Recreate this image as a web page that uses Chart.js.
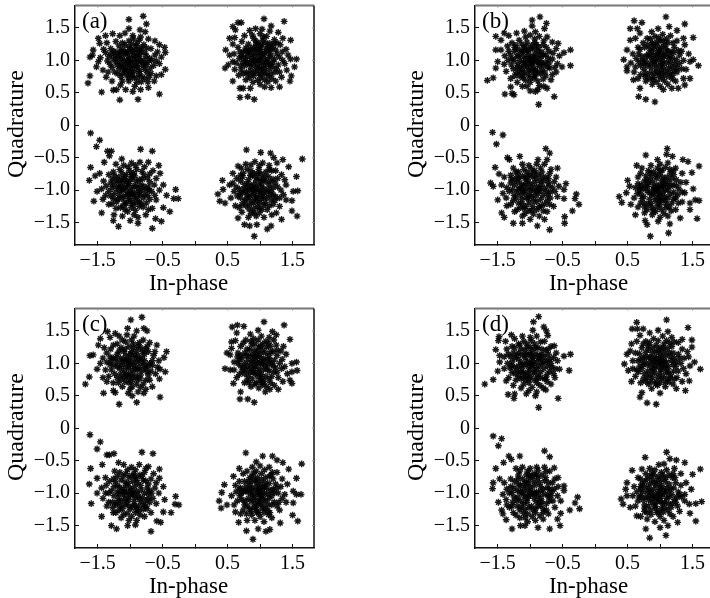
<!DOCTYPE html>
<html>
<head>
<meta charset="utf-8">
<style>
html, body { margin: 0; background: #fff; overflow: hidden; }
canvas { position: absolute; }
</style>
<script src="https://cdn.jsdelivr.net/npm/chart.js@4"></script>
</head>
<body>
<canvas id="a" style="left:0;top:0"></canvas>
<canvas id="b" style="left:400px;top:0"></canvas>
<canvas id="c" style="left:0;top:303px"></canvas>
<canvas id="d" style="left:400px;top:303px"></canvas>
<script>
const xTicks = [-1.5, -1, -0.5, 0, 0.5, 1, 1.5];
const yTicks = [-1.5, -1, -0.5, 0, 0.5, 1, 1.5];
const xLabelled = [-1.5, -0.5, 0.5, 1.5];

// The edges of each cloud are individual marks, the black middles are estimates
const pointsA = [
[-.8,1.68],[-1.02,1.63],[-.75,1.56],[-1.02,1.49],[-.85,1.47],[-.77,1.44],[-1.65,.65],[-1.62,.76],[-1.44,.51],[-1.16,.39],[-.88,.4],[-.55,.48],[-.46,.86],[-.46,1.12],[-.47,1.2],[-1.57,1.16],[-1.58,1.08],[-1.62,1.05],[-1.52,.9],[-1.49,.98],[-1.49,1.34],[-1.47,1.26],[-1.26,.54],[-1.21,.55],
[-1.38,1.38],[-1.27,1.41],[-1.16,1.38],[-1.08,1.42],[-.96,1.38],[-.84,1.36],[-.72,1.33],[-.62,1.3],[-.55,1.24],[-.52,1.05],[-.55,.95],[-.52,.78],[-.63,.68],[-.72,.58],[-.84,.55],[-.96,.52],[-1.07,.55],[-1.15,.62],[-1.28,.68],[-1.37,.74],[-1.42,.85],[-1.46,1.04],[-1.41,1.17],[-1.36,1.27],
[-1.3,1.18],[-1.22,1.29],[-1.12,1.27],[-1.02,1.3],[-.9,1.26],[-.79,1.24],[-.68,1.18],[-.62,1.08],[-.64,.92],[-.68,.8],[-.78,.72],[-.9,.66],[-1.02,.68],[-1.14,.74],[-1.24,.82],[-1.31,.94],[-1.33,1.06],
[-1.2,1.12],[-1.12,1.17],[-1.02,1.2],[-.93,1.16],[-.83,1.15],[-.75,1.06],[-.73,.97],[-.77,.86],[-.86,.79],[-.97,.77],[-1.07,.83],[-1.17,.87],[-1.22,.98],[-1.13,1.03],[-1.05,1.09],[-.96,1.08],[-.87,1.05],[-.82,.96],[-.88,.88],[-.98,.86],[-1.07,.93],[-1.0,.99],[-.92,.96],
[-1.04,1.13],[-.91,1.22],[-.84,1.0],[-1.16,1.08],[-.94,.91],[-1.11,.89],[-.8,.91],[-.93,.83],[-1.03,.73],[-1.26,1.02],[-1.15,.96],[-.7,1.03],[-.98,1.25],[-1.08,1.24],[-.86,1.31],[-.77,1.11],[-.69,.88],[-.83,.67],[-1.19,.79],[-1.28,.89],[-1.35,.99],[-1.25,1.14],[-1.17,1.22],[-.95,1.33],[-.75,1.19],[-.58,1.13],[-.6,.99],[-.6,.76],[-.73,.67],[-.93,.6],[-1.12,.68],[-1.34,.82],[-1.38,1.12],[-1.01,1.04],[-.89,1.11],[-.94,1.01],[-1.09,1.0],[-1.02,.89],[-.85,.83],[-1.0,.81],[-1.14,.92],[-.79,1.0],[-1.08,1.13],[-.97,1.14],[-.9,.73],[-1.19,1.03],[-.83,1.2],[-.71,.74],[-.88,.99],[-1.05,.78],
[-1.1,1.1],[-.99,1.17],[-.85,1.09],[-.9,.92],[-1.04,.97],[-1.2,.93],[-.76,.93],[-.96,.73],[-1.12,.8],[-1.23,1.07],[-.99,.94],[-.92,1.06],[-1.03,1.01],[-.86,1.16],[-1.08,.85],[-.83,.75],[-.74,.81],[-1.15,1.13],[-.67,1.0],[-1.29,1.1],
[.76,1.38],[.88,1.39],[1.0,1.41],[1.1,1.37],[1.22,1.32],[1.31,1.24],[1.4,1.17],[1.43,1.08],[1.38,.95],[1.41,.85],[1.33,.74],[1.24,.68],[1.12,.67],[1.0,.63],[.89,.66],[.78,.7],[.67,.77],[.61,.86],[.58,.98],[.6,1.1],[.66,1.2],[.72,1.29],
[.74,1.13],[.82,1.25],[.93,1.3],[1.04,1.31],[1.15,1.26],[1.24,1.16],[1.3,1.05],[1.28,.93],[1.23,.82],[1.12,.76],[1.01,.73],[.9,.76],[.79,.82],[.7,.92],[.68,1.03],
[.82,1.12],[.9,1.2],[1.0,1.22],[1.09,1.17],[1.17,1.08],[1.2,.98],[1.15,.87],[1.05,.83],[.95,.84],[.85,.9],[.78,1.0],[.87,1.03],[.95,1.11],[1.04,1.09],[1.11,1.0],[1.06,.93],[.96,.94],[.9,.99],[1.0,1.02],[1.02,.97],
[.66,1.58],[.71,1.58],[1.06,1.64],[1.37,1.6],[.58,1.52],[.62,1.47],[.84,1.46],[.93,1.49],[1.03,1.48],[1.17,1.53],[1.15,1.45],[1.28,1.43],[.53,1.34],[.61,1.35],[1.47,1.31],[1.35,1.34],[.58,1.25],[.47,1.16],[.53,1.08],[1.56,1.02],[1.47,1.02],[1.53,.9],[.46,.88],[.51,.93],[1.48,.76],[1.46,.68],[.58,.68],[.69,.57],[.74,.57],[.85,.57],[.69,.43],[.81,.44],[.91,.4],[1.3,.59],[1.17,.58],[1.07,.59],
[.92,1.06],[1.13,1.13],[.99,1.14],[.85,1.18],[1.22,1.02],[1.08,.88],[.98,.79],[.86,.83],[.74,.98],[.81,1.06],[1.19,.91],[1.13,.95],[.94,1.25],[1.09,1.27],[1.19,1.2],[.78,1.19],[.69,1.13],[.63,.96],[.74,.79],[.84,.73],[.96,.69],[1.07,.7],[1.18,.72],[1.3,.82],[1.35,1.0],[1.34,1.13],[1.26,1.27],[1.05,1.36],[.9,1.34],[.98,1.0],[1.06,1.04],[.88,.95],[.93,.89],[1.02,.87],[1.14,1.05],[1.0,1.17],[.88,1.1],[.76,.92],[.8,.95],[1.1,.8],[.91,1.16],[1.25,.87],[1.16,1.16],[.71,1.07],[1.03,1.24],
[.97,1.27],[1.07,1.12],[.84,1.14],[1.16,.94],[.9,.8],[1.03,.78],[.79,1.15],[.93,1.0],[1.09,.97],[.99,.89],[.84,.97],[1.12,1.21],[.75,1.05],[.71,.85],[1.26,1.1],[1.0,1.07],[.95,1.18],[1.17,.79],[.82,.78],[1.21,1.25],
[-1.61,-.12],[-1.47,-.23],[-1.52,-.33],[-1.35,-.4],[-1.29,-.4],[-1.32,-.47],[-.84,-.37],[-.66,-.4],[-1.4,-.57],[-1.61,-.65],[-1.63,-.85],[-1.54,-.78],[-1.47,-.74],[-1.51,-1.02],[-1.56,-1.17],[-1.44,-1.35],[-1.25,-1.38],[-1.26,-1.47],[-1.18,-1.56],[-.66,-1.59],[-.88,-1.51],[-.61,-1.44],[-.52,-1.48],[-.39,-1.33],[-.49,-1.27],[-.44,-1.08],[-.3,-.99],[-.33,-1.13],[-.26,-1.13],[-.49,-.92],[-.54,-.74],[-.56,-.62],[-.72,-.57],[-1.13,-.52],
[-1.22,-.6],[-1.1,-.62],[-.98,-.58],[-.85,-.57],[-.78,-.64],[-.65,-.7],[-.6,-.82],[-.55,-1.0],[-.6,-1.15],[-.66,-1.28],[-.76,-1.38],[-.88,-1.42],[-1.0,-1.47],[-1.12,-1.4],[-1.22,-1.28],[-1.33,-1.22],[-1.42,-1.14],[-1.44,-.98],[-1.41,-.86],[-1.33,-.76],
[-1.24,-.78],[-1.13,-.73],[-1.01,-.7],[-.9,-.68],[-.79,-.76],[-.7,-.87],[-.67,-1.02],[-.7,-1.14],[-.8,-1.26],[-.92,-1.31],[-1.04,-1.33],[-1.15,-1.27],[-1.26,-1.13],[-1.33,-1.02],[-1.3,-.89],
[-1.18,-.88],[-1.08,-.82],[-.97,-.8],[-.86,-.84],[-.79,-.94],[-.78,-1.07],[-.86,-1.18],[-.97,-1.21],[-1.08,-1.18],[-1.17,-1.08],[-1.2,-.98],[-1.09,-.95],[-1.02,-.9],[-.92,-.93],[-.87,-1.03],[-.95,-1.1],[-1.05,-1.07],[-1.12,-1.0],[-.99,-1.0],[-1.0,-1.04],
[-1.14,-.94],[-1.05,-.86],[-.91,-.86],[-.83,-1.0],[-.89,-1.11],[-1.02,-1.13],[-1.13,-1.13],[-1.24,-1.05],[-1.25,-.92],[-1.18,-.8],[-1.06,-.76],[-.95,-.74],[-.82,-.71],[-.74,-.81],[-.72,-.95],[-.73,-1.08],[-.75,-1.2],[-.86,-1.25],[-.98,-1.27],[-1.11,-1.24],[-1.21,-1.18],[-1.3,-1.09],[-1.37,-.94],[-1.28,-.83],[-1.16,-.68],[-1.03,-.64],[-.92,-.62],[-.7,-.75],[-.63,-.92],[-.62,-1.08],[-.72,-1.3],[-.94,-1.38],[-1.08,-1.3],[-1.28,-1.21],[-1.38,-1.08],[-1.07,-.99],[-.96,-.95],[-1.02,-1.06],[-.93,-1.04],[-1.16,-1.01],[-.99,-.84],[-.84,-.92],[-1.11,-.87],[-.91,-1.16],[-1.06,-1.21],[-.8,-1.12],
[-1.1,-1.09],[-.98,-.76],[-1.22,-.85],[-.88,-.97],[-1.04,-.93],[-1.19,-1.14],[-.93,-.78],[-.81,-.83],[-1.14,-.84],[-.76,-.99],[-1.28,-.97],[-1.0,-1.16],[-.83,-1.21],[-1.09,-.79],[-.94,-1.22],[-1.18,-.95],[-.71,-1.0],[-.85,-1.07],[-.97,-1.06],[-1.26,-.72],
[.79,-.38],[1.01,-.42],[1.16,-.43],[1.21,-.5],[1.35,-.53],[1.65,-.52],[1.44,-.64],[1.26,-.58],[1.56,-.79],[.42,-.85],[.35,-1.06],[.43,-.99],[.38,-1.17],[.46,-1.2],[1.58,-1.01],[1.51,-1.02],[1.49,-1.16],[1.49,-1.32],[1.57,-1.4],[1.11,-1.6],[1.17,-1.55],[.91,-1.71],[.84,-1.55],[.95,-1.53],[.76,-1.53],[.66,-1.43],[.66,-.63],[.71,-.66],[.58,-.74],[.53,-.92],[.58,-.89],[1.33,-1.45],[1.25,-1.35],[1.38,-.84],
[.78,-.6],[.92,-.56],[1.04,-.58],[1.14,-.62],[1.24,-.7],[1.33,-.76],[1.4,-.92],[1.36,-1.07],[1.4,-1.15],[1.3,-1.25],[1.18,-1.38],[1.06,-1.42],[.94,-1.4],[.82,-1.42],[.72,-1.34],[.62,-1.24],[.55,-1.12],[.6,-1.02],[.64,-.82],
[.74,-.74],[.86,-.7],[.98,-.68],[1.09,-.72],[1.2,-.83],[1.27,-.95],[1.24,-1.1],[1.14,-1.24],[1.03,-1.3],[.9,-1.29],[.78,-1.24],[.7,-1.12],[.68,-.98],[.7,-.86],
[.82,-.84],[.94,-.8],[1.05,-.84],[1.14,-.92],[1.17,-1.02],[1.1,-1.12],[1.0,-1.19],[.88,-1.16],[.8,-1.07],[.8,-.96],[.9,-.91],[.98,-.92],[1.06,-.98],[1.0,-1.08],[.91,-1.05],[.97,-1.0],[.88,-.99],[1.04,-1.04],[.95,-1.1],[1.02,-.88],
[.85,-.77],[.76,-.91],[.73,-1.04],[.76,-1.17],[.84,-1.22],[.96,-1.25],[1.08,-1.19],[1.17,-1.15],[1.2,-.96],[1.13,-.79],[1.02,-.75],[.91,-.74],[.8,-.68],[.7,-.77],[.63,-.95],[.65,-1.09],[.68,-1.27],[.86,-1.36],[.99,-1.35],[1.11,-1.3],[1.2,-1.22],[1.3,-1.12],[1.32,-1.0],[1.27,-.82],[1.18,-.7],[.99,-.62],[.86,-.61],[.93,-.96],[1.02,-1.13],[.84,-1.0],[1.1,-1.03],[.94,-.85],[.83,-1.11],[1.09,-.87],[1.15,-1.08],[.9,-1.2],[.78,-1.02],[1.0,-1.02],[.93,-1.12],[1.06,-1.23],[.81,-.9],[.97,-.74],[1.23,-.89],[.73,-.8],[.87,-1.07],
[1.03,-.95],[.88,-.78],[1.13,-.99],[.95,-1.16],[1.07,-.79],[.79,-1.14],[.86,-.94],[1.0,-.83],[1.2,-1.07],[.99,-1.28],[.91,-1.35],[1.14,-.68],[.75,-.98],[1.23,-1.16],[.83,-1.29],[1.05,-1.1],[.69,-1.05],[.92,-1.0],[1.16,-.86],[.72,-1.22]
];
const pointsB = [
[-.85,1.67],[-.97,1.62],[-.75,1.57],[-.97,1.53],[-.78,1.49],[-.92,1.44],[-1.53,1.37],[-1.4,1.42],[-1.45,1.31],[-.38,1.16],[-.48,1.12],[-.38,.92],[-.51,.9],[-.57,1.26],[-1.53,1.16],[-1.45,1.16],[-1.5,.98],[-1.53,.88],[-1.57,.73],[-1.66,.69],[-1.39,.48],[-1.28,.49],[-1.25,.47],[-.87,.32],[-.63,.44],[-.92,.52],[-1.3,.59],[-.74,.57],
[-1.33,1.38],[-1.21,1.42],[-1.09,1.45],[-1.0,1.39],[-.86,1.37],[-.74,1.36],[-.66,1.28],[-.6,1.18],[-.55,1.07],[-.58,.95],[-.6,.82],[-.68,.7],[-.79,.6],[-.88,.55],[-1.0,.53],[-1.12,.6],[-1.2,.66],[-1.3,.72],[-1.37,.83],[-1.4,.94],[-1.39,1.07],[-1.35,1.22],
[-1.28,1.27],[-1.17,1.31],[-1.05,1.28],[-.93,1.27],[-.8,1.24],[-.71,1.14],[-.66,1.02],[-.7,.88],[-.76,.76],[-.88,.68],[-1.0,.66],[-1.12,.73],[-1.21,.81],[-1.29,.93],[-1.3,1.08],
[-1.19,1.17],[-1.1,1.19],[-.99,1.18],[-.88,1.14],[-.8,1.08],[-.77,.97],[-.82,.85],[-.92,.79],[-1.03,.78],[-1.13,.85],[-1.19,.95],[-1.2,1.06],[-1.1,1.06],[-1.02,1.09],[-.92,1.04],[-.88,.96],[-.95,.88],[-1.05,.9],[-1.1,.97],[-1.0,1.0],[-.96,.96],[-1.03,.95],[-.93,1.1],
[-1.14,1.12],[-1.06,1.14],[-.84,1.03],[-.86,.91],[-.98,.83],[-1.09,.82],[-1.16,.9],[-1.25,1.0],[-1.24,1.14],[-1.13,1.25],[-.98,1.23],[-.87,1.2],[-.75,1.2],[-.72,1.03],[-.73,.9],[-.8,.71],[-.94,.72],[-1.07,.69],[-1.17,.76],[-1.26,.87],[-1.34,1.0],[-1.33,1.14],[-1.22,1.23],[-1.07,1.36],[-.93,1.33],[-.79,1.3],[-.65,1.11],[-.62,.89],[-.66,.78],[-.86,.61],[-1.05,.6],[-1.24,.76],[-.98,.92],[-.9,.99],[-1.06,1.03],[-.96,1.05],[-1.15,1.0],[-.84,.79],[-1.0,.73],[-1.1,.91],[-.79,.92],[-1.03,1.16],[-.82,1.13],[-.92,.85],[-1.18,1.07],
[-1.12,1.14],[-.94,1.18],[-.86,1.08],[-.83,.96],[-1.02,.85],[-1.2,.89],[-1.07,1.22],[-.97,.99],[-.89,.82],[-1.15,.82],[-.76,1.08],[-1.28,1.02],[-.9,1.24],[-1.01,1.03],[-1.07,.97],[-.93,.76],[-.71,.96],[-1.24,1.2],[-.78,.82],[-1.11,.76],
[1.09,1.67],[1.38,1.56],[.6,1.61],[.72,1.58],[.54,1.49],[.65,1.49],[.69,1.42],[.54,1.31],[.62,1.34],[1.51,1.35],[.97,1.49],[1.14,1.52],[.87,1.44],[1.26,1.46],[1.36,1.34],[.44,1.01],[.49,.9],[.49,.84],[.59,.7],[1.59,.92],[1.51,1.01],[.49,1.16],[1.46,.72],[1.38,.62],[.67,.44],[.78,.4],[.92,.36],[.69,.57],[1.05,.55],[1.28,.57],[1.18,.57],
[.8,1.34],[.92,1.37],[1.04,1.4],[1.16,1.38],[1.26,1.3],[1.38,1.24],[1.44,1.1],[1.46,.98],[1.4,.86],[1.36,.72],[1.24,.68],[1.12,.63],[1.0,.6],[.88,.63],[.78,.68],[.66,.72],[.6,.82],[.55,.96],[.58,1.1],[.66,1.2],
[.72,1.06],[.76,1.2],[.88,1.27],[1.0,1.3],[1.12,1.27],[1.22,1.2],[1.3,1.08],[1.3,.95],[1.26,.82],[1.14,.75],[1.02,.72],[.9,.74],[.78,.8],[.7,.92],
[.82,1.1],[.9,1.18],[1.02,1.2],[1.12,1.14],[1.19,1.03],[1.18,.9],[1.08,.83],[.96,.82],[.86,.88],[.78,.99],[.88,1.01],[.97,1.08],[1.06,1.06],[1.1,.96],[1.0,.92],[.92,.94],[.98,1.0],[1.04,.99],[.9,1.08],[1.02,1.12],
[.84,1.18],[.95,1.22],[1.07,1.24],[1.17,1.13],[1.25,1.01],[1.21,.84],[1.13,.88],[1.02,.79],[.84,.8],[.75,.86],[.67,.98],[.67,1.1],[.74,1.27],[.85,1.33],[.98,1.35],[1.1,1.33],[1.2,1.27],[1.33,1.14],[1.36,1.0],[1.33,.87],[1.19,.71],[1.07,.68],[.95,.67],[.83,.72],[.7,.78],[.62,.9],[.63,1.03],[.93,1.02],[1.02,1.05],[.85,.95],[.94,.88],[1.05,.89],[1.13,1.03],[.79,1.07],[.97,1.15],[.75,.95],[1.09,1.18],[.89,1.24],[1.23,.94],[1.16,.97],[.81,1.24],[1.01,.85],[.91,.81],[1.28,1.15],[.69,1.17],
[1.08,1.1],[.87,1.13],[1.0,1.16],[1.15,1.07],[.91,.98],[1.07,.76],[.8,.92],[.98,.76],[1.21,1.12],[.95,1.28],[1.14,.81],[.73,1.0],[1.03,.95],[.84,1.06],[1.26,.88],[.96,1.1],[.77,.75],[1.05,1.3],[1.19,.77],[.89,.7],
[-1.58,-.11],[-1.42,-.15],[-1.52,-.29],[-.76,-.36],[-.7,-.43],[-1.35,-.5],[-1.32,-.53],[-1.16,-.48],[-1.54,-.65],[-1.48,-.75],[-1.61,-.89],[-1.57,-.94],[-.88,-.53],[-.74,-.53],[-.58,-.66],[-.45,-.9],[-.48,-.99],[-.48,-1.13],[-.29,-1.06],[-.31,-1.13],[-.25,-1.22],[-.35,-1.32],[-.47,-1.41],[-.47,-1.51],[-.7,-1.61],[-.89,-1.55],[-.78,-1.45],[-1.26,-1.51],[-1.12,-1.51],[-1.4,-1.42],[-1.44,-1.35],[-1.5,-1.15],
[-1.26,-.66],[-1.12,-.6],[-1.02,-.62],[-.9,-.6],[-.78,-.6],[-.68,-.68],[-.6,-.8],[-.56,-.94],[-.58,-1.1],[-.64,-1.25],[-.74,-1.33],[-.86,-1.4],[-1.0,-1.45],[-1.12,-1.4],[-1.24,-1.33],[-1.36,-1.24],[-1.42,-1.05],[-1.44,-.92],[-1.4,-.8],
[-1.3,-.77],[-1.18,-.72],[-1.05,-.72],[-.93,-.7],[-.82,-.72],[-.72,-.82],[-.66,-.96],[-.69,-1.12],[-.78,-1.22],[-.9,-1.3],[-1.02,-1.32],[-1.15,-1.27],[-1.26,-1.16],[-1.32,-1.02],[-1.3,-.89],
[-1.19,-.87],[-1.08,-.82],[-.96,-.8],[-.85,-.86],[-.78,-.97],[-.8,-1.08],[-.9,-1.18],[-1.02,-1.2],[-1.13,-1.14],[-1.2,-1.03],[-1.1,-.93],[-1.0,-.9],[-.9,-.95],[-.88,-1.05],[-.98,-1.1],[-1.08,-1.05],[-1.0,-1.0],[-1.04,-.97],[-.94,-1.01],[-1.12,-1.0],
[-1.16,-.96],[-1.24,-.92],[-1.25,-1.08],[-1.18,-1.2],[-1.07,-1.25],[-.96,-1.25],[-.84,-1.14],[-.73,-1.08],[-.71,-.93],[-.76,-.8],[-.88,-.76],[-1.0,-.76],[-1.12,-.78],[-1.24,-.84],[-1.36,-.96],[-1.37,-1.12],[-1.3,-1.22],[-1.2,-1.3],[-1.08,-1.36],[-.95,-1.37],[-.8,-1.32],[-.7,-1.22],[-.62,-1.02],[-.63,-.87],[-.7,-.74],[-.84,-.66],[-.98,-.67],[-1.1,-.68],[-1.22,-.72],[-1.06,-.89],[-.93,-.88],[-.83,-.92],[-1.03,-1.13],[-.92,-1.09],[-1.15,-1.07],[-1.06,-1.12],[-.97,-.95],[-.84,-1.01],[-1.17,-.82],[-.79,-.86],[-.74,-1.16],[-.86,-1.26],[-1.12,-1.21],[-1.27,-.99],[-.91,-.82],
[-1.04,-.84],[-1.22,-1.12],[-.95,-1.16],[-.82,-.8],[-1.1,-1.01],[-.9,-1.01],[-1.29,-.83],[-.75,-1.02],[-1.01,-1.07],[-1.13,-.91],[-.98,-1.31],[-.72,-.88],[-1.2,-.79],[-.86,-.97],[-1.05,-.79],[-.69,-1.03],[-1.09,-1.28],[-.94,-.74],[-1.18,-.99],[-.83,-1.24],
[.78,-.46],[1.11,-.36],[1.19,-.48],[1.1,-.45],[1.35,-.53],[1.43,-.56],[1.6,-.63],[.96,-.53],[.64,-.62],[1.49,-.73],[.5,-.85],[.53,-.94],[.48,-1.04],[.37,-1.1],[.41,-1.19],[.55,-1.22],[1.51,-.98],[1.54,-1.15],[1.6,-1.16],[1.46,-1.2],[1.46,-1.3],[1.57,-1.44],[1.31,-1.43],[1.13,-1.66],[.85,-1.71],[1.15,-1.52],[.8,-1.53],[.77,-1.47],[.62,-1.38],[.97,-1.48],
[.72,-.66],[.86,-.62],[1.0,-.6],[1.12,-.58],[1.24,-.66],[1.34,-.74],[1.4,-.88],[1.38,-1.04],[1.34,-1.18],[1.24,-1.3],[1.12,-1.4],[1.0,-1.42],[.88,-1.38],[.76,-1.35],[.66,-1.26],[.6,-1.12],[.62,-.96],[.66,-.8],
[.78,-.78],[.9,-.72],[1.03,-.7],[1.16,-.74],[1.25,-.84],[1.29,-.98],[1.24,-1.12],[1.14,-1.26],[1.02,-1.3],[.88,-1.27],[.76,-1.2],[.7,-1.06],[.71,-.92],
[.82,-.88],[.95,-.82],[1.07,-.84],[1.16,-.94],[1.16,-1.06],[1.08,-1.17],[.96,-1.2],[.84,-1.14],[.8,-1.01],[.9,-.95],[1.0,-.92],[1.08,-1.0],[1.0,-1.09],[.91,-1.06],[.97,-1.0],[1.04,-1.04],[.9,-.99],[1.02,-.96],[.96,-1.12],[1.06,-.9],
[1.12,-1.0],[1.2,-.92],[1.21,-1.14],[1.1,-1.22],[.96,-1.26],[.82,-1.22],[.75,-1.1],[.74,-.98],[.76,-.86],[.86,-.8],[.99,-.76],[1.11,-.8],[1.21,-.76],[1.32,-.88],[1.34,-1.03],[1.28,-1.2],[1.17,-1.32],[1.06,-1.36],[.93,-1.33],[.8,-1.3],[.7,-1.2],[.65,-1.05],[.66,-.9],[.7,-.74],[.82,-.7],[.96,-.66],[1.08,-.65],[1.2,-.7],[.88,-.87],[.94,-.92],[1.04,-.8],[1.12,-1.12],[1.03,-1.15],[.87,-1.07],[.86,-1.21],[1.07,-1.1],[.96,-.97],[.81,-.94],[1.18,-1.2],[.76,-1.26],[1.25,-.93],[1.0,-1.22],[.92,-1.15],[1.13,-.87],[.7,-.96],
[1.03,-.86],[.84,-1.04],[1.21,-1.03],[.93,-.77],[1.09,-1.27],[.78,-.94],[.98,-1.05],[1.15,-.68],[.72,-1.13],[.89,-1.32],[1.05,-.94],[.92,-1.0],[1.27,-1.07],[.8,-.84],[1.11,-.93],[.68,-1.0],[1.0,-.7],[1.18,-.82],[.85,-.74],[1.0,-1.16]
];
const pointsC = [
[-.82,1.71],[-.99,1.67],[-.79,1.54],[-.74,1.5],[-1.04,1.54],[-.9,1.5],[-1.35,1.49],[-1.46,1.38],[-1.23,1.46],[-1.49,1.28],[-1.62,1.12],[-1.57,1.13],[-.44,1.18],[-.48,1.09],[-.46,.87],[-.54,.91],[-.59,1.28],[-1.51,.91],[-1.46,1.0],[-1.63,.79],[-1.69,.68],[-1.41,.54],[-1.23,.55],[-1.26,.58],[-1.17,.37],[-.9,.4],[-.54,.48],[-.97,.5],[-1.03,.54],[-.79,.54],[-1.36,.72],
[-1.4,1.24],[-1.31,1.4],[-1.17,1.42],[-1.05,1.44],[-.94,1.42],[-.8,1.36],[-.7,1.32],[-.62,1.18],[-.56,1.04],[-.58,.94],[-.55,.76],[-.66,.64],[-.76,.6],[-.88,.56],[-1.0,.6],[-1.12,.64],[-1.26,.7],[-1.42,.78],[-1.38,.9],[-1.42,1.08],
[-1.3,1.22],[-1.2,1.3],[-1.07,1.33],[-.95,1.3],[-.84,1.24],[-.72,1.18],[-.66,1.04],[-.68,.88],[-.76,.74],[-.9,.68],[-1.02,.7],[-1.14,.76],[-1.24,.84],[-1.31,.98],[-1.31,1.1],
[-1.2,1.14],[-1.1,1.18],[-.98,1.18],[-.88,1.12],[-.78,1.04],[-.76,.92],[-.84,.82],[-.96,.78],[-1.06,.84],[-1.16,.92],[-1.2,1.02],[-1.1,1.06],[-1.0,1.08],[-.9,1.02],[-.86,.94],[-.96,.88],[-1.06,.95],[-1.0,.98],[-.94,.96],[-1.04,1.0],[-.92,1.08],
[-1.15,1.08],[-1.06,1.12],[-.83,1.01],[-.82,.89],[-.91,.81],[-1.03,.77],[-1.1,.88],[-1.25,.97],[-1.26,1.08],[-1.14,1.24],[-1.02,1.26],[-.9,1.19],[-.78,1.14],[-.7,1.0],[-.72,.82],[-.8,.68],[-.97,.64],[-1.08,.72],[-1.2,.78],[-1.29,.9],[-1.36,1.02],[-1.36,1.16],[-1.26,1.28],[-1.12,1.36],[-.98,1.36],[-.86,1.32],[-.74,1.26],[-.64,1.12],[-.61,.84],[-.7,.74],[-.84,.63],[-1.18,.7],[-1.33,.8],[-.97,1.02],[-1.06,1.05],[-.89,.9],[-.99,.83],[-1.13,.97],[-.82,1.08],[-.94,1.13],[-1.02,.92],[-.81,1.18],[-1.17,1.19],[-.73,.96],[-.9,.75],
[-1.08,1.22],[-.86,1.06],[-1.0,1.14],[-1.12,1.02],[-.92,.92],[-1.15,.83],[-1.22,1.08],[-.79,.97],[-1.04,.82],[-.85,.76],[-.95,1.24],[-1.2,.95],[-.76,1.22],[-1.09,.79],[-.98,.72],[-.74,.87],[-1.29,1.04],[-1.03,1.04],[-.88,1.27],[-.66,.97],
[1.06,1.64],[1.37,1.59],[.65,1.59],[.57,1.56],[.75,1.57],[.64,1.47],[.97,1.51],[1.19,1.49],[1.25,1.44],[1.46,1.37],[.85,1.45],[.56,1.33],[.62,1.35],[.56,1.23],[.49,1.16],[.54,1.13],[1.56,1.02],[1.49,1.0],[1.57,.89],[1.49,.87],[.46,.92],[.54,.9],[.59,.69],[1.46,.74],[1.49,.69],[1.28,.6],[.69,.45],[.81,.45],[.91,.4],[.7,.56],[1.08,.56],[1.15,.6],
[.78,1.36],[.9,1.38],[1.02,1.42],[1.14,1.4],[1.25,1.28],[1.36,1.26],[1.4,1.14],[1.38,.95],[1.42,.84],[1.35,.72],[1.22,.66],[1.1,.64],[.98,.62],[.86,.64],[.76,.7],[.64,.78],[.6,.9],[.6,1.02],[.66,1.16],[.7,1.26],
[.72,1.08],[.8,1.22],[.92,1.3],[1.04,1.3],[1.16,1.26],[1.26,1.12],[1.3,1.0],[1.26,.86],[1.14,.76],[1.0,.73],[.88,.76],[.76,.84],[.7,.96],
[.82,1.12],[.92,1.2],[1.04,1.2],[1.14,1.12],[1.18,1.0],[1.14,.88],[1.02,.83],[.9,.86],[.8,.96],[.88,1.04],[.96,1.1],[1.06,1.06],[1.08,.96],[.98,.92],[.92,.97],[1.0,1.01],[1.03,.99],[.94,1.04],[1.0,1.14],[.86,.92],
[.76,1.16],[.87,1.28],[.98,1.25],[1.1,1.25],[1.2,1.18],[1.22,1.05],[1.24,.93],[1.18,.8],[1.06,.72],[.94,.7],[.82,.8],[.72,.88],[.66,1.0],[.65,1.1],[.74,1.31],[.86,1.34],[.97,1.36],[1.09,1.34],[1.21,1.36],[1.32,1.19],[1.34,1.06],[1.33,.92],[1.28,.78],[1.16,.7],[1.04,.67],[.92,.68],[.8,.74],[.68,.83],[.96,1.0],[1.11,1.07],[1.02,1.08],[.86,.99],[.93,.84],[1.05,.9],[1.12,.99],[.89,1.14],[.81,1.05],[1.03,.77],[.76,1.0],[.96,1.18],[1.16,1.18],[.84,1.21],[1.21,.87],[.7,1.12],[1.09,.8],
[1.08,1.16],[.94,1.12],[.79,1.12],[1.15,1.05],[.98,.86],[.85,.86],[1.01,1.26],[1.11,.91],[.91,.92],[1.26,1.2],[.74,.93],[1.05,1.02],[.83,.7],[.97,.79],[1.2,.96],[.89,1.09],[1.03,.7],[.68,1.05],[1.13,1.31],[.79,.9],
[-1.62,-.1],[-1.46,-.21],[-1.51,-.32],[-1.36,-.41],[-1.32,-.41],[-1.25,-.39],[-.82,-.37],[-.65,-.39],[-1.43,-.56],[-1.61,-.62],[-1.63,-.86],[-1.51,-.77],[-1.38,-.76],[-1.51,-1.0],[-1.6,-1.16],[-1.44,-1.36],[-1.29,-1.5],[-1.21,-1.55],[-1.04,-1.5],[-.68,-1.59],[-.92,-1.49],[-.53,-1.45],[-.59,-1.43],[-.49,-1.29],[-.37,-1.3],[-.3,-1.05],[-.31,-1.17],[-.25,-1.18],[-.47,-1.1],[-.49,-.9],[-.55,-.77],[-.55,-.63],[-.72,-.59],[-1.18,-.53],
[-1.24,-.66],[-1.1,-.56],[-.98,-.6],[-.86,-.56],[-.76,-.62],[-.64,-.7],[-.6,-.84],[-.56,-1.0],[-.6,-1.16],[-.68,-1.3],[-.78,-1.36],[-.9,-1.42],[-1.02,-1.42],[-1.14,-1.38],[-1.26,-1.3],[-1.36,-1.2],[-1.42,-1.08],[-1.44,-.92],
[-1.32,-.82],[-1.2,-.74],[-1.07,-.7],[-.94,-.7],[-.82,-.74],[-.72,-.86],[-.67,-1.0],[-.7,-1.14],[-.8,-1.25],[-.92,-1.3],[-1.05,-1.31],[-1.17,-1.26],[-1.27,-1.14],[-1.33,-1.0],
[-1.2,-.88],[-1.08,-.83],[-.96,-.82],[-.84,-.88],[-.78,-1.0],[-.84,-1.13],[-.96,-1.2],[-1.08,-1.18],[-1.18,-1.08],[-1.2,-.98],[-1.1,-.94],[-1.0,-.92],[-.9,-.97],[-.92,-1.07],[-1.02,-1.1],[-1.1,-1.03],[-1.0,-1.01],[-1.05,-.98],[-.96,-1.03],[-.88,-1.02],
[-1.14,-.97],[-1.25,-.9],[-1.25,-1.04],[-1.22,-1.18],[-1.12,-1.24],[-1.0,-1.25],[-.87,-1.2],[-.76,-1.12],[-.72,-1.0],[-.74,-.92],[-.8,-.8],[-.9,-.78],[-1.02,-.76],[-1.14,-.8],[-1.26,-.78],[-1.37,-.88],[-1.38,-1.0],[-1.33,-1.14],[-1.22,-1.3],[-1.1,-1.33],[-.98,-1.36],[-.85,-1.34],[-.74,-1.24],[-.65,-1.08],[-.62,-.92],[-.68,-.78],[-.78,-.68],[-.92,-.64],[-1.04,-.64],[-1.16,-.68],[-1.06,-.88],[-.93,-.9],[-.83,-.95],[-1.05,-1.14],[-.94,-1.13],[-1.14,-1.12],[-.98,-.96],[-1.08,-1.09],[-.86,-1.08],[-1.16,-.91],[-.8,-1.18],[-.9,-1.25],[-.7,-.96],[-1.27,-1.22],[-.98,-.73],
[-1.03,-.85],[-1.17,-1.01],[-.89,-.84],[-1.11,-.74],[-1.02,-1.2],[-.81,-1.07],[-1.29,-.96],[-.76,-.81],[-.93,-1.19],[-1.2,-1.14],[-.95,-1.0],[-1.09,-.99],[-.85,-.72],[-1.23,-.82],[-.72,-1.07],[-.87,-1.27],[-1.02,-1.05],[-.92,-.75],[-1.15,-1.19],[-.76,-1.2],
[.78,-.38],[1.04,-.43],[1.19,-.43],[1.26,-.49],[1.35,-.53],[1.64,-.55],[1.44,-.63],[.94,-.52],[.68,-.62],[1.56,-.77],[.45,-.87],[.41,-.99],[.37,-1.12],[.4,-1.23],[.49,-1.18],[1.51,-.97],[1.56,-1.02],[1.63,-1.02],[1.51,-1.15],[1.5,-1.34],[1.58,-1.43],[1.31,-1.46],[.89,-1.71],[1.09,-1.59],[1.15,-1.56],[.97,-1.55],[.79,-1.58],[.67,-1.45],[.62,-1.29],[.59,-.74],
[.74,-.7],[.88,-.6],[1.0,-.58],[1.14,-.6],[1.26,-.68],[1.34,-.78],[1.42,-.86],[1.38,-1.02],[1.4,-1.14],[1.3,-1.26],[1.18,-1.38],[1.06,-1.44],[.92,-1.42],[.8,-1.42],[.7,-1.32],[.6,-1.18],[.56,-1.04],[.62,-.88],
[.76,-.82],[.88,-.74],[1.02,-.7],[1.14,-.74],[1.24,-.86],[1.28,-1.0],[1.22,-1.14],[1.12,-1.27],[.98,-1.3],[.86,-1.28],[.76,-1.18],[.69,-1.04],[.68,-.94],
[.84,-.88],[.96,-.84],[1.08,-.84],[1.16,-.96],[1.14,-1.08],[1.04,-1.18],[.92,-1.18],[.82,-1.08],[.8,-.98],[.9,-.96],[.99,-.92],[1.07,-1.0],[1.0,-1.08],[.92,-1.05],[.96,-1.0],[1.03,-1.04],[.88,-1.03],[1.04,-.94],[.94,-.9],[.96,-1.12],
[1.1,-.92],[1.2,-.94],[1.18,-1.18],[1.08,-1.24],[.94,-1.25],[.8,-1.2],[.72,-1.1],[.74,-.98],[.78,-.9],[.84,-.76],[.96,-.76],[1.08,-.76],[1.2,-.78],[1.32,-.9],[1.34,-1.08],[1.26,-1.2],[1.13,-1.33],[1.0,-1.36],[.87,-1.34],[.74,-1.26],[.65,-1.12],[.63,-.98],[.68,-.82],[.8,-.66],[.94,-.66],[1.07,-.64],[1.19,-.68],[.88,-.82],[1.02,-.8],[1.12,-1.02],[.86,-1.13],[1.0,-1.14],[.82,-.95],[1.09,-1.12],[.97,-.96],[.9,-1.1],[1.18,-1.04],[1.06,-1.3],[.79,-1.32],[1.26,-.92],[.7,-.92],[.91,-1.22],[1.14,-.85],[.85,-1.0],[1.01,-.88],
[1.05,-1.09],[.93,-.8],[1.22,-.99],[.77,-1.12],[1.12,-1.18],[.87,-.92],[.95,-1.3],[1.17,-.72],[.99,-1.02],[.76,-.96],[1.07,-.9],[1.29,-1.14],[.84,-1.24],[.9,-.69],[1.03,-1.23],[.71,-1.0],[1.15,-1.3],[.82,-.82],[1.0,-.98],[.97,-1.18]
];
const pointsD = [
[-.87,1.72],[-.95,1.64],[-.79,1.56],[-.75,1.5],[-.73,1.43],[-.96,1.51],[-1.48,1.41],[-1.29,1.44],[-1.49,1.35],[-1.53,1.21],[-1.47,1.12],[-.38,1.14],[-.48,1.11],[-.4,.89],[-.55,.91],[-.63,1.27],[-1.47,1.02],[-1.5,.88],[-1.57,.75],[-1.7,.68],[-1.34,.52],[-1.25,.46],[-1.24,.53],[-.87,.32],[-.57,.46],[-.92,.5],[-1.06,.53],[-.76,.59],[-1.37,.73],
[-1.38,1.34],[-1.24,1.38],[-1.12,1.42],[-1.0,1.4],[-.9,1.42],[-.78,1.34],[-.68,1.26],[-.6,1.16],[-.58,1.04],[-.62,.92],[-.62,.78],[-.68,.68],[-.8,.62],[-.9,.56],[-1.02,.58],[-1.14,.62],[-1.26,.66],[-1.33,.78],[-1.4,.92],[-1.4,1.1],[-1.36,1.22],
[-1.28,1.26],[-1.18,1.3],[-1.05,1.3],[-.93,1.3],[-.82,1.22],[-.72,1.14],[-.68,1.0],[-.7,.88],[-.78,.76],[-.9,.7],[-1.02,.7],[-1.14,.76],[-1.23,.84],[-1.29,.96],[-1.3,1.1],
[-1.18,1.16],[-1.08,1.2],[-.97,1.2],[-.86,1.12],[-.79,1.02],[-.79,.92],[-.88,.82],[-1.0,.8],[-1.1,.86],[-1.18,.96],[-1.18,1.06],[-1.08,1.08],[-.98,1.09],[-.9,1.02],[-.9,.92],[-1.0,.9],[-1.08,.98],[-1.0,1.0],[-.95,.97],[-1.03,.95],[-.94,1.1],
[-1.14,1.01],[-1.24,.94],[-1.24,1.08],[-1.14,1.22],[-1.0,1.25],[-.88,1.24],[-.76,1.2],[-.84,1.06],[-.74,1.03],[-.73,.96],[-.84,.78],[-.94,.75],[-1.07,.74],[-1.18,.8],[-1.28,.86],[-1.35,1.0],[-1.34,1.14],[-1.24,1.24],[-1.1,1.34],[-.98,1.35],[-.84,1.33],[-.72,1.22],[-.64,1.09],[-.64,.84],[-.74,.72],[-.85,.66],[-.97,.63],[-1.1,.68],[-1.22,.74],[-1.04,1.03],[-.96,1.04],[-.86,.96],[-.95,.85],[-1.06,.81],[-1.13,.92],[-1.12,1.13],[-1.02,1.15],[-.91,1.15],[-.84,.87],[-1.04,.86],[-1.2,1.12],[-.74,.83],[-.82,1.14],[-1.28,1.02],[-.67,.94],
[-1.07,1.13],[-.93,.88],[-1.2,.89],[-.81,1.0],[-1.02,.76],[-.92,1.24],[-1.11,.98],[-.78,1.1],[-.97,.97],[-1.15,.86],[-.7,1.06],[-1.05,1.25],[-.89,.77],[-1.26,1.16],[-.99,1.14],[-.76,.78],[-1.31,.93],[-1.1,.79],[-.87,1.08],[-1.16,1.28],
[1.1,1.67],[1.43,1.55],[.64,1.63],[.57,1.53],[.65,1.53],[.74,1.53],[.84,1.47],[.97,1.51],[1.12,1.49],[1.34,1.37],[1.49,1.36],[.69,1.43],[.56,1.3],[.64,1.34],[.49,1.14],[.54,1.19],[.45,.99],[.51,.89],[1.49,1.25],[1.53,1.02],[1.62,.91],[.56,.72],[1.45,.73],[1.39,.58],[.69,.48],[.72,.55],[.8,.39],[.94,.37],[1.0,.54],[1.25,.61],[.87,.61],
[.78,1.34],[.9,1.38],[1.04,1.42],[1.18,1.4],[1.28,1.32],[1.42,1.18],[1.44,1.1],[1.46,.96],[1.4,.84],[1.34,.72],[1.2,.68],[1.08,.64],[.96,.66],[.82,.68],[.7,.7],[.62,.8],[.58,.92],[.58,1.04],[.62,1.16],[.72,1.24],
[.74,1.1],[.82,1.22],[.94,1.28],[1.06,1.3],[1.18,1.26],[1.28,1.14],[1.32,1.0],[1.28,.88],[1.16,.78],[1.02,.76],[.88,.78],[.76,.84],[.69,.96],
[.84,1.1],[.94,1.18],[1.06,1.18],[1.16,1.1],[1.2,.98],[1.12,.88],[1.0,.85],[.88,.88],[.8,.98],[.9,1.02],[.98,1.08],[1.06,1.04],[1.08,.96],[.98,.94],[.92,.97],[1.0,1.0],[1.03,.99],[.94,1.06],[1.1,1.02],[.86,.94],
[.76,1.02],[.66,1.04],[.67,.87],[.8,.78],[.94,.72],[1.08,.71],[1.22,.76],[1.24,.95],[1.22,1.08],[1.12,1.23],[1.0,1.24],[.88,1.17],[.78,1.17],[.68,1.15],[.74,1.3],[.84,1.32],[.97,1.35],[1.1,1.35],[1.22,1.33],[1.34,1.22],[1.37,1.08],[1.36,.92],[1.26,.78],[1.14,.71],[1.0,.7],[.86,.72],[.74,.76],[.64,.9],[.96,1.02],[1.03,1.09],[1.13,.95],[.85,1.02],[.92,.85],[1.05,.8],[.81,.88],[.89,1.24],[1.14,1.16],[.72,.92],[1.25,1.02],[1.0,1.14],[.92,1.1],[1.16,.83],[1.09,1.12],[1.02,.9],[.79,1.09],
[1.05,1.24],[.87,1.08],[1.18,1.04],[.97,.79],[1.1,.86],[.84,.82],[.74,.98],[1.2,1.16],[.98,1.2],[.91,.92],[1.06,.93],[.78,.72],[1.3,1.08],[1.15,1.31],[.82,1.27],[.93,.68],[1.21,.88],[.7,1.06],[1.02,1.04],[1.11,.76],
[-1.57,-.12],[-1.44,-.16],[-1.49,-.27],[-1.33,-.43],[-1.29,-.48],[-1.16,-.43],[-1.41,-.53],[-.78,-.35],[-.7,-.44],[-1.53,-.62],[-1.57,-.84],[-1.58,-.93],[-1.47,-.78],[-1.49,-1.14],[-1.44,-1.26],[-1.42,-1.32],[-1.37,-1.41],[-1.28,-1.55],[-1.15,-1.5],[-1.08,-1.5],[-.88,-1.53],[-.7,-1.55],[-.54,-1.5],[-.58,-1.4],[-.53,-1.31],[-.39,-1.26],[-.31,-1.15],[-.27,-1.06],[-.24,-1.24],[-.48,-.89],[-.48,-.96],[-.63,-.61],[-.57,-.76],[-.53,-1.12],
[-1.22,-.62],[-1.12,-.6],[-1.0,-.62],[-.9,-.6],[-.78,-.6],[-.7,-.66],[-.62,-.78],[-.57,-.9],[-.58,-1.04],[-.62,-1.22],[-.72,-1.32],[-.8,-1.4],[-.92,-1.42],[-1.04,-1.44],[-1.16,-1.38],[-1.26,-1.3],[-1.36,-1.18],[-1.42,-1.02],[-1.4,-.84],
[-1.3,-.78],[-1.18,-.72],[-1.06,-.72],[-.94,-.7],[-.82,-.72],[-.72,-.84],[-.67,-.98],[-.7,-1.12],[-.8,-1.24],[-.92,-1.3],[-1.04,-1.32],[-1.16,-1.26],[-1.27,-1.14],[-1.32,-1.0],[-1.3,-.9],
[-1.18,-.86],[-1.06,-.82],[-.94,-.82],[-.84,-.9],[-.79,-1.02],[-.86,-1.14],[-.98,-1.2],[-1.1,-1.16],[-1.19,-1.06],[-1.2,-.96],[-1.1,-.94],[-1.0,-.9],[-.9,-.98],[-.94,-1.08],[-1.04,-1.08],[-1.1,-1.02],[-1.0,-1.0],[-1.04,-.96],[-.96,-1.02],[-.88,-1.04],
[-1.15,-.98],[-1.25,-.92],[-1.25,-1.06],[-1.2,-1.2],[-1.08,-1.25],[-.96,-1.26],[-.84,-1.18],[-.75,-1.16],[-.73,-1.02],[-.74,-.92],[-.78,-.81],[-.88,-.77],[-1.0,-.77],[-1.12,-.78],[-1.24,-.82],[-1.36,-.94],[-1.37,-1.1],[-1.32,-1.22],[-1.22,-1.34],[-1.08,-1.38],[-.97,-1.36],[-.85,-1.35],[-.75,-1.26],[-.65,-1.12],[-.63,-.94],[-.66,-.84],[-.76,-.67],[-.88,-.65],[-1.04,-.66],[-1.16,-.66],[-1.06,-.88],[-.93,-.88],[-.84,-.97],[-1.05,-1.14],[-.91,-1.13],[-1.15,-1.12],[-.98,-.95],[-1.08,-1.07],[-.84,-1.08],[-1.15,-.89],[-.8,-1.3],[-.92,-1.24],[-.7,-.94],[-1.28,-1.2],[-.96,-.74],
[-1.02,-1.22],[-.86,-.84],[-1.21,-1.11],[-.8,-.94],[-1.13,-1.0],[-1.03,-.84],[-.93,-1.0],[-1.28,-.99],[-.72,-1.06],[-1.1,-1.31],[-.9,-.72],[-1.19,-.78],[-.82,-1.13],[-1.02,-1.04],[-.76,-.76],[-1.14,-1.21],[-.88,-1.2],[-1.09,-.85],[-.68,-1.04],[-1.01,-.72],
[.77,-.45],[1.1,-.37],[1.15,-.47],[1.25,-.49],[1.38,-.53],[1.62,-.63],[1.5,-.71],[.57,-.65],[.49,-.84],[.47,-.94],[.49,-1.04],[.4,-1.09],[.43,-1.17],[.54,-1.22],[1.48,-.94],[1.45,-1.17],[1.55,-1.16],[1.64,-1.13],[1.46,-1.31],[1.55,-1.43],[1.27,-1.45],[.84,-1.69],[1.09,-1.65],[1.0,-1.53],[.78,-1.55],[.64,-1.35],[1.12,-1.5],[.72,-.63],
[.66,-.76],[.84,-.62],[.98,-.56],[1.06,-.55],[1.22,-.62],[1.32,-.7],[1.4,-.84],[1.38,-1.02],[1.38,-1.12],[1.3,-1.28],[1.2,-1.36],[1.06,-1.42],[.92,-1.44],[.8,-1.4],[.7,-1.36],[.62,-1.2],[.58,-1.04],[.6,-.9],
[.76,-.82],[.9,-.72],[1.02,-.68],[1.14,-.72],[1.24,-.84],[1.28,-.98],[1.24,-1.14],[1.12,-1.26],[.98,-1.3],[.86,-1.26],[.76,-1.18],[.7,-1.04],[.7,-.94],
[.84,-.86],[.96,-.8],[1.08,-.82],[1.16,-.94],[1.14,-1.06],[1.04,-1.16],[.92,-1.18],[.82,-1.1],[.8,-.98],[.9,-.94],[1.0,-.92],[1.07,-1.0],[1.0,-1.08],[.92,-1.04],[.96,-1.0],[1.03,-1.03],[.88,-1.02],[1.03,-.9],[.94,-.88],[.96,-1.12],
[1.12,-.98],[1.21,-.92],[1.19,-1.16],[1.07,-1.22],[.94,-1.24],[.82,-1.2],[.74,-1.1],[.73,-.98],[.76,-.9],[.84,-.74],[.97,-.74],[1.09,-.76],[1.19,-.76],[1.32,-.88],[1.33,-1.06],[1.27,-1.2],[1.15,-1.32],[1.0,-1.36],[.86,-1.33],[.76,-1.28],[.66,-1.12],[.64,-.98],[.7,-.78],[.78,-.7],[.92,-.64],[1.1,-.64],[1.2,-.7],[.88,-.8],[1.02,-.78],[1.1,-1.08],[.87,-1.14],[1.0,-1.13],[.82,-.92],[1.07,-1.14],[.98,-.97],[.89,-1.09],[1.18,-1.02],[1.05,-1.29],[.8,-1.3],[1.26,-1.06],[.7,-.9],[.92,-1.2],[1.14,-.86],[.84,-1.04],[1.0,-.85],
[.95,-1.3],[1.05,-.96],[.78,-1.06],[1.17,-1.22],[.91,-.84],[1.23,-.76],[.85,-.97],[1.02,-1.24],[.72,-.86],[1.1,-.92],[.94,-1.08],[1.3,-1.02],[.8,-.78],[.68,-1.06],[1.13,-1.16],[.99,-1.04],[.88,-.69],[1.22,-1.1],[.76,-1.23],[1.04,-.72]
];

const FONT = '"Liberation Serif", serif';

function fmt(v) {
    return String(v !== 0 ? v.toFixed(1) : v).replace('-', '\u2212');
}

// Frame, mirrored ticks and the text Chart.js can't place off-centre
const panelDecor = {
    id: 'panelDecor',
    afterDraw(chart, args, opts) {
        const { ctx, chartArea: a, scales } = chart;
        ctx.save();
        ctx.strokeStyle = '#777';
        ctx.lineWidth = 2;
        ctx.beginPath(); ctx.moveTo(a.left, a.top); ctx.lineTo(a.right, a.top); ctx.stroke();
        ctx.strokeStyle = '#111';
        ctx.lineWidth = 1.5;
        ctx.beginPath(); ctx.moveTo(a.right, a.top); ctx.lineTo(a.right, a.bottom); ctx.stroke();
        ctx.strokeStyle = '#999';
        ctx.lineWidth = 1;
        xTicks.forEach(v => {
            const px = scales.x.getPixelForValue(v);
            ctx.beginPath(); ctx.moveTo(px, a.top); ctx.lineTo(px, a.top + 2); ctx.stroke();
        });
        yTicks.forEach(v => {
            const py = scales.y.getPixelForValue(v);
            ctx.beginPath(); ctx.moveTo(a.right, py); ctx.lineTo(a.right - 2, py); ctx.stroke();
        });
        ctx.fillStyle = '#000';
        ctx.textBaseline = 'middle';
        ctx.textAlign = 'center';
        ctx.font = '23px ' + FONT;
        ctx.fillText('In-phase', a.left + 113.5, a.bottom + 39);
        ctx.save();
        ctx.translate(17, 124);
        ctx.rotate(-Math.PI / 2);
        ctx.font = '24px ' + FONT;
        ctx.fillText('Quadrature', 0, 0);
        ctx.restore();
        ctx.textAlign = 'left';
        ctx.font = '23px ' + FONT;
        ctx.fillText(opts.tag, a.left + 7, a.top + 16);
        ctx.restore();
    }
};

function drawPanel(id, tag, points, left, width) {
    const canvas = document.getElementById(id);
    canvas.width = width;
    canvas.height = 295;
    canvas.style.width = width + 'px';
    canvas.style.height = '295px';
    new Chart(canvas, {
        type: 'scatter',
        data: {
            datasets: [{
                data: points.map(p => ({ x: p[0], y: p[1] })),
                pointStyle: 'star',
                pointRadius: 3.4,
                pointBorderWidth: 1.4,
                pointBorderColor: 'rgba(0,0,0,0.9)',
                pointBackgroundColor: 'rgba(0,0,0,0.9)'
            }]
        },
        plugins: [panelDecor],
        options: {
            responsive: false,
            animation: false,
            clip: false,
            layout: { padding: { top: 5.5, right: width - left - 239, bottom: 0, left: 0 } },
            plugins: { legend: { display: false }, tooltip: { enabled: false }, panelDecor: { tag } },
            scales: {
                x: {
                    min: -1.85, max: 1.83,
                    afterBuildTicks: ax => { ax.ticks = xTicks.map(v => ({ value: v })); },
                    afterFit: ax => { ax.height = 50; ax.paddingLeft = 0; ax.paddingRight = 0; },
                    border: { color: '#111', width: 1.5 },
                    grid: { drawOnChartArea: false, tickLength: -4, tickColor: '#111', tickWidth: 1 },
                    ticks: {
                        autoSkip: false, maxRotation: 0, padding: 8, color: '#000',
                        font: { family: FONT, size: 20 },
                        callback: v => xLabelled.includes(v) ? fmt(v) : ''
                    }
                },
                y: {
                    min: -1.845, max: 1.845,
                    afterBuildTicks: ax => { ax.ticks = yTicks.map(v => ({ value: v })); },
                    afterFit: ax => { ax.width = left; ax.paddingTop = 0; ax.paddingBottom = 0; },
                    border: { color: '#111', width: 1.5 },
                    grid: { drawOnChartArea: false, tickLength: -4, tickColor: '#111', tickWidth: 1 },
                    ticks: {
                        autoSkip: false, padding: 9, color: '#000',
                        font: { family: FONT, size: 20 },
                        callback: v => fmt(v)
                    }
                }
            }
        }
    });
}

drawPanel('a', '(a)', pointsA, 75, 400);
drawPanel('b', '(b)', pointsB, 75, 340);
drawPanel('c', '(c)', pointsC, 75, 400);
drawPanel('d', '(d)', pointsD, 75, 340);
</script>
</body>
</html>
